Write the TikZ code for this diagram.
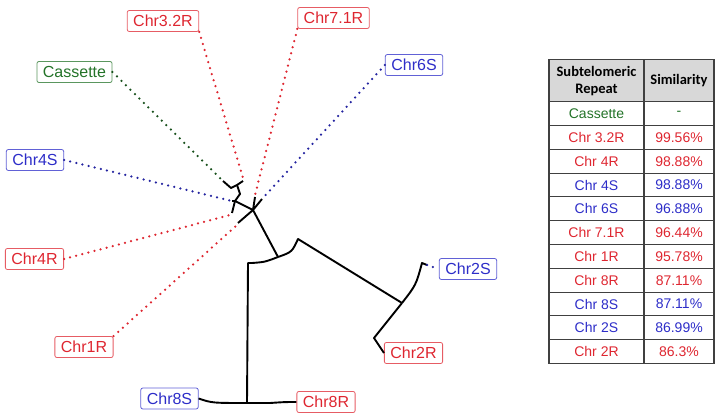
\documentclass[tikz,border=0pt]{standalone}
\usepackage{fontspec}
\setmainfont{Liberation Sans}
\newfontfamily\hdrfont{Carlito}
\usetikzlibrary{positioning,calc}

\definecolor{chrred}{RGB}{222,38,48}
\definecolor{chrblue}{RGB}{45,45,200}
\definecolor{chrgreen}{RGB}{35,115,40}
\definecolor{hdrgray}{RGB}{216,216,216}

\tikzset{
  lbl/.style={draw, rounded corners=2pt, inner xsep=6pt, inner ysep=0pt,
    minimum height=21pt, line width=0.8pt, font=\fontsize{16}{18}\selectfont},
  redlbl/.style={lbl, text=chrred, draw=chrred!75},
  bluelbl/.style={lbl, text=chrblue, draw=chrblue!75},
  greenlbl/.style={lbl, text=chrgreen, draw=chrgreen!75},
  dots/.style={line width=2.5pt, line cap=round, dash pattern=on 0pt off 6.3pt},
  branch/.style={line width=1.9pt, line join=round},
  tbl/.style={line width=1.1pt, draw=black!75},
  cell/.style={font=\fontsize{14}{16}\selectfont}
}

\begin{document}
\begin{tikzpicture}[x=1pt, y=-1pt]
  \useasboundingbox (0,0) rectangle (720,419);
  % labels
  \node[redlbl] (c32r) at (163,21) {Chr3.2R};
  \node[redlbl] (c71r) at (333.5,18) {Chr7.1R};
  \node[greenlbl] (cas) at (74.5,72) {Cassette};
  \node[bluelbl] (c6s) at (414,65) {Chr6S};
  \node[bluelbl] (c4s) at (35,160) {Chr4S};
  \node[redlbl] (c4r) at (34.5,259) {Chr4R};
  \node[redlbl] (c1r) at (84,347) {Chr1R};
  \node[bluelbl] (c2s) at (468,269) {Chr2S};
  \node[redlbl] (c2r) at (413.5,353) {Chr2R};
  \node[bluelbl] (c8s) at (169.5,398.5) {Chr8S};
  \node[redlbl] (c8r) at (326,402) {Chr8R};
  %
  \coordinate (c) at (253,210);
  \coordinate (t71) at (255,197);
  \coordinate (t6s) at (262,199);
  \coordinate (t1r) at (238,223);
  \coordinate (a) at (235,201);
  \coordinate (t4s) at (232,201);
  \coordinate (t4r) at (232,213);
  \coordinate (b) at (240,194);
  \coordinate (d) at (237,185);
  \coordinate (tcas) at (223,181);
  \coordinate (t32r) at (243,181);
  \coordinate (e) at (278,257);
  \coordinate (g) at (298,239);
  \coordinate (h) at (402,303);
  \coordinate (t2s) at (427,265);
  \coordinate (t2r) at (374,338);
  \coordinate (f) at (247,403);
  % tree
  \draw[branch] (t1r) -- (c) -- (e);
  \draw[branch] (t71) -- (c) -- (t6s);
  \draw[branch] (c) -- (a) -- (b) -- (d);
  \draw[branch] (a) -- (t4r);
  \draw[branch] (a) -- (t4s);
  \draw[branch] (tcas) -- (231,188) -- (d) -- (t32r);
  \draw[branch] (e) .. controls (265,262) .. (252,263) -- (248,263) -- (f);
  \draw[branch] (e) .. controls (292,252) .. (g) -- (h);
  \draw[branch] (h) .. controls (416,285) .. (422,263) -- (t2s);
  \draw[branch] (h) -- (t2r) -- (c2r.west);
  \draw[branch] (c8s.east) .. controls (212,403) .. (f);
  \draw[branch] (f) -- (270,403) .. controls (285,402) .. (c8r.west);
  % dotted leaves
  \draw[dots, chrgreen!70!black] (cas.east) -- (tcas);
  \draw[dots, chrred] (c32r.south east) -- ($(t32r)+(0,-3)$);
  \draw[dots, chrred] (c71r.south west) -- ($(t71)+(0,-2)$);
  \draw[dots, chrblue!80!black] (c6s.west) -- (t6s);
  \draw[dots, chrblue!80!black] (c4s.east) -- (t4s);
  \draw[dots, chrred] (c4r.east) -- ($(t4r)+(-2,2)$);
  \draw[dots, chrred] (c1r.north east) -- ($(t1r)+(-1,2)$);
  \draw[dots, chrblue!80!black] (t2s) -- (c2s.west);
  % table
  \fill[hdrgray] (549,59.3) rectangle (714,101.7);
  \draw[tbl] (549,59.3) rectangle (714,363.5);
  \draw[tbl] (644,59.3) -- (644,363.5);
  \foreach \i in {0,...,10}
    \draw[tbl] (549,101.7+23.8*\i) -- (714,101.7+23.8*\i);
  \node[align=center, font=\hdrfont\bfseries\fontsize{14.5}{17.5}\selectfont] (hrep) at (596.5,81) {Subtelomeric\\Repeat};
  \node[font=\hdrfont\bfseries\fontsize{14.5}{17.5}\selectfont] (hsim) at (679,81) {Similarity};
  \foreach \nm/\val/\col [count=\i] in {Cassette/-/chrgreen, Chr 3.2R/99.56\%/chrred,
      Chr 4R/98.88\%/chrred, Chr 4S/98.88\%/chrblue, Chr 6S/96.88\%/chrblue,
      Chr 7.1R/96.44\%/chrred, Chr 1R/95.78\%/chrred, Chr 8R/87.11\%/chrred,
      Chr 8S/87.11\%/chrblue, Chr 2S/86.99\%/chrblue, Chr 2R/86.3\%/chrred}
  {
    \node[cell, text=\col] (nm\i) at (596.5,89.8+23.8*\i) {\nm};
    \node[cell, text=\col] (val\i) at (679,89.8+23.8*\i) {\val};
  }
\end{tikzpicture}
\end{document}
